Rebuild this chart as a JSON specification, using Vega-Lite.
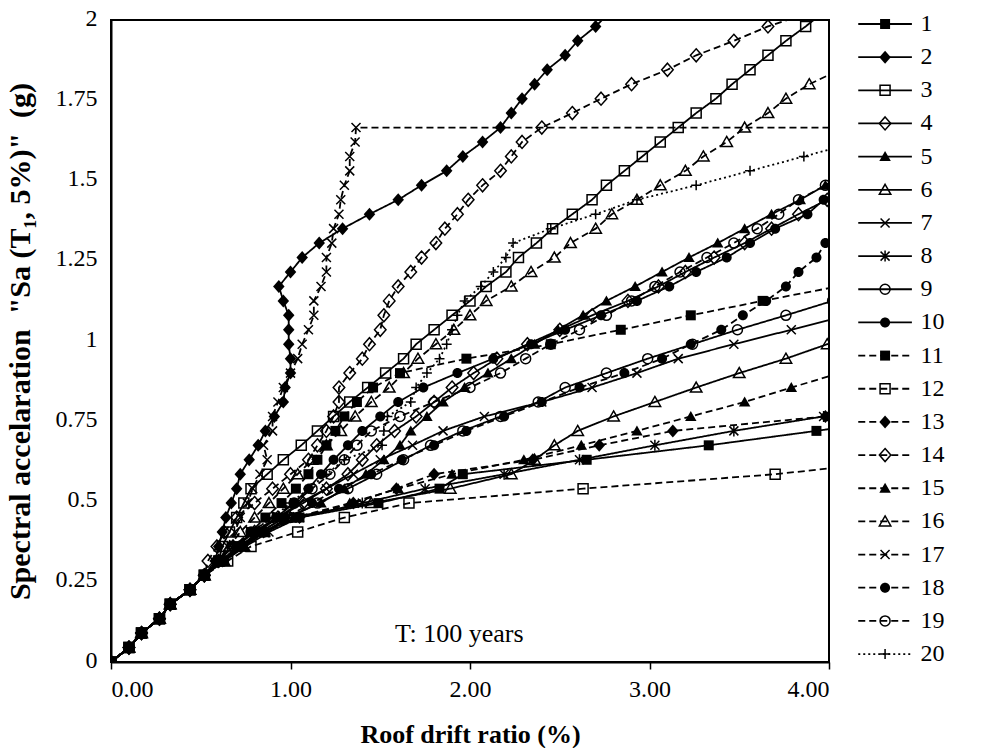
{
"$schema": "https://vega.github.io/schema/vega-lite/v6.json",
"background": "white",
"padding": {"left": 4, "top": 5, "right": 0, "bottom": 0},
"config": {
  "font": "Liberation Serif",
  "view": {"stroke": "black", "strokeWidth": 2},
  "axis": {"labelFont": "Liberation Serif", "labelFontSize": 24, "labelColor": "black", "titleFont": "Liberation Serif", "titleFontSize": 25, "titleFontWeight": "bold", "titleColor": "black", "domainColor": "black", "domainWidth": 2, "tickColor": "black", "grid": false}
},
"datasets": {
"series": [{"s":1},{"s":2},{"s":3},{"s":4},{"s":5},{"s":6},{"s":7},{"s":8},{"s":9},{"s":10},{"s":11},{"s":12},{"s":13},{"s":14},{"s":15},{"s":16},{"s":17},{"s":18},{"s":19},{"s":20}],
"curves": [
{"s":1,"x":0,"y":0},{"s":1,"x":0.1,"y":0.045},{"s":1,"x":0.17,"y":0.09},{"s":1,"x":0.27,"y":0.135},{"s":1,"x":0.33,"y":0.18},{"s":1,"x":0.44,"y":0.225},{"s":1,"x":0.52,"y":0.27},
{"s":1,"x":0.63,"y":0.315},{"s":1,"x":0.72,"y":0.36},{"s":1,"x":0.84,"y":0.405},{"s":1,"x":1.05,"y":0.45},{"s":1,"x":1.49,"y":0.495},{"s":1,"x":1.83,"y":0.54},{"s":1,"x":1.96,"y":0.585},{"s":1,"x":2.65,"y":0.63},{"s":1,"x":3.33,"y":0.675},{"s":1,"x":3.93,"y":0.72},{"s":1,"x":4.5,"y":0.765},
{"s":2,"x":0,"y":0},{"s":2,"x":0.1,"y":0.045},{"s":2,"x":0.17,"y":0.09},{"s":2,"x":0.27,"y":0.135},{"s":2,"x":0.33,"y":0.18},{"s":2,"x":0.44,"y":0.225},{"s":2,"x":0.52,"y":0.27},
{"s":2,"x":0.58,"y":0.315},{"s":2,"x":0.6,"y":0.36},{"s":2,"x":0.62,"y":0.405},{"s":2,"x":0.64,"y":0.45},{"s":2,"x":0.67,"y":0.495},{"s":2,"x":0.7,"y":0.54},{"s":2,"x":0.72,"y":0.585},{"s":2,"x":0.77,"y":0.63},{"s":2,"x":0.82,"y":0.675},{"s":2,"x":0.86,"y":0.72},{"s":2,"x":0.91,"y":0.765},{"s":2,"x":0.96,"y":0.81},{"s":2,"x":0.97,"y":0.855},{"s":2,"x":1.0,"y":0.9},{"s":2,"x":1.0,"y":0.945},{"s":2,"x":0.99,"y":0.99},{"s":2,"x":0.99,"y":1.035},{"s":2,"x":0.99,"y":1.08},{"s":2,"x":0.96,"y":1.125},{"s":2,"x":0.935,"y":1.17},{"s":2,"x":1.0,"y":1.215},{"s":2,"x":1.065,"y":1.26},{"s":2,"x":1.16,"y":1.305},{"s":2,"x":1.29,"y":1.35},{"s":2,"x":1.44,"y":1.395},{"s":2,"x":1.6,"y":1.44},{"s":2,"x":1.73,"y":1.485},{"s":2,"x":1.87,"y":1.53},{"s":2,"x":1.96,"y":1.575},{"s":2,"x":2.07,"y":1.62},{"s":2,"x":2.17,"y":1.665},{"s":2,"x":2.23,"y":1.71},{"s":2,"x":2.29,"y":1.755},{"s":2,"x":2.36,"y":1.8},{"s":2,"x":2.43,"y":1.845},{"s":2,"x":2.53,"y":1.89},{"s":2,"x":2.6,"y":1.935},{"s":2,"x":2.7,"y":1.98},{"s":2,"x":2.78,"y":2.025},
{"s":3,"x":0,"y":0},{"s":3,"x":0.1,"y":0.045},{"s":3,"x":0.17,"y":0.09},{"s":3,"x":0.27,"y":0.135},{"s":3,"x":0.33,"y":0.18},{"s":3,"x":0.44,"y":0.225},{"s":3,"x":0.52,"y":0.27},
{"s":3,"x":0.6,"y":0.315},{"s":3,"x":0.62,"y":0.36},{"s":3,"x":0.66,"y":0.405},{"s":3,"x":0.7,"y":0.45},{"s":3,"x":0.74,"y":0.495},{"s":3,"x":0.78,"y":0.54},{"s":3,"x":0.87,"y":0.585},{"s":3,"x":0.96,"y":0.63},{"s":3,"x":1.06,"y":0.675},{"s":3,"x":1.15,"y":0.72},{"s":3,"x":1.24,"y":0.765},{"s":3,"x":1.33,"y":0.81},{"s":3,"x":1.43,"y":0.855},{"s":3,"x":1.53,"y":0.9},{"s":3,"x":1.63,"y":0.945},{"s":3,"x":1.7,"y":0.99},{"s":3,"x":1.8,"y":1.035},{"s":3,"x":1.9,"y":1.08},{"s":3,"x":2.0,"y":1.125},{"s":3,"x":2.09,"y":1.17},{"s":3,"x":2.2,"y":1.215},{"s":3,"x":2.27,"y":1.26},{"s":3,"x":2.37,"y":1.305},{"s":3,"x":2.46,"y":1.35},{"s":3,"x":2.57,"y":1.395},{"s":3,"x":2.68,"y":1.44},{"s":3,"x":2.76,"y":1.485},{"s":3,"x":2.86,"y":1.53},{"s":3,"x":2.96,"y":1.575},{"s":3,"x":3.06,"y":1.62},{"s":3,"x":3.16,"y":1.665},{"s":3,"x":3.26,"y":1.71},{"s":3,"x":3.37,"y":1.755},{"s":3,"x":3.46,"y":1.8},{"s":3,"x":3.56,"y":1.845},{"s":3,"x":3.66,"y":1.89},{"s":3,"x":3.76,"y":1.935},{"s":3,"x":3.87,"y":1.98},{"s":3,"x":3.97,"y":2.025},
{"s":4,"x":0,"y":0},{"s":4,"x":0.1,"y":0.045},{"s":4,"x":0.17,"y":0.09},{"s":4,"x":0.27,"y":0.135},{"s":4,"x":0.33,"y":0.18},{"s":4,"x":0.44,"y":0.225},{"s":4,"x":0.52,"y":0.27},
{"s":4,"x":0.6,"y":0.315},{"s":4,"x":0.68,"y":0.36},{"s":4,"x":0.8,"y":0.405},{"s":4,"x":0.93,"y":0.45},{"s":4,"x":1.07,"y":0.495},{"s":4,"x":1.2,"y":0.54},{"s":4,"x":1.32,"y":0.585},{"s":4,"x":1.4,"y":0.63},{"s":4,"x":1.48,"y":0.675},{"s":4,"x":1.58,"y":0.72},{"s":4,"x":1.7,"y":0.765},{"s":4,"x":1.8,"y":0.81},{"s":4,"x":1.9,"y":0.855},{"s":4,"x":2.02,"y":0.9},{"s":4,"x":2.15,"y":0.945},{"s":4,"x":2.32,"y":0.99},{"s":4,"x":2.5,"y":1.035},{"s":4,"x":2.68,"y":1.08},{"s":4,"x":2.88,"y":1.125},{"s":4,"x":3.05,"y":1.17},{"s":4,"x":3.2,"y":1.215},{"s":4,"x":3.36,"y":1.26},{"s":4,"x":3.53,"y":1.305},{"s":4,"x":3.68,"y":1.35},{"s":4,"x":3.83,"y":1.395},{"s":4,"x":3.99,"y":1.44},{"s":4,"x":4.15,"y":1.485},
{"s":5,"x":0,"y":0},{"s":5,"x":0.1,"y":0.045},{"s":5,"x":0.17,"y":0.09},{"s":5,"x":0.27,"y":0.135},{"s":5,"x":0.33,"y":0.18},{"s":5,"x":0.44,"y":0.225},{"s":5,"x":0.52,"y":0.27},
{"s":5,"x":0.62,"y":0.315},{"s":5,"x":0.72,"y":0.36},{"s":5,"x":0.83,"y":0.405},{"s":5,"x":0.97,"y":0.45},{"s":5,"x":1.17,"y":0.495},{"s":5,"x":1.3,"y":0.54},{"s":5,"x":1.42,"y":0.585},{"s":5,"x":1.52,"y":0.63},{"s":5,"x":1.61,"y":0.675},{"s":5,"x":1.67,"y":0.72},{"s":5,"x":1.76,"y":0.765},{"s":5,"x":1.85,"y":0.81},{"s":5,"x":1.97,"y":0.855},{"s":5,"x":2.1,"y":0.9},{"s":5,"x":2.23,"y":0.945},{"s":5,"x":2.36,"y":0.99},{"s":5,"x":2.49,"y":1.035},{"s":5,"x":2.63,"y":1.08},{"s":5,"x":2.76,"y":1.125},{"s":5,"x":2.92,"y":1.17},{"s":5,"x":3.07,"y":1.215},{"s":5,"x":3.22,"y":1.26},{"s":5,"x":3.38,"y":1.305},{"s":5,"x":3.53,"y":1.35},{"s":5,"x":3.68,"y":1.395},{"s":5,"x":3.84,"y":1.44},{"s":5,"x":3.98,"y":1.485},{"s":5,"x":4.12,"y":1.53},
{"s":6,"x":0,"y":0},{"s":6,"x":0.1,"y":0.045},{"s":6,"x":0.17,"y":0.09},{"s":6,"x":0.27,"y":0.135},{"s":6,"x":0.33,"y":0.18},{"s":6,"x":0.44,"y":0.225},{"s":6,"x":0.52,"y":0.27},
{"s":6,"x":0.63,"y":0.315},{"s":6,"x":0.74,"y":0.36},{"s":6,"x":0.85,"y":0.405},{"s":6,"x":1.0,"y":0.45},{"s":6,"x":1.45,"y":0.495},{"s":6,"x":1.89,"y":0.54},{"s":6,"x":2.23,"y":0.585},{"s":6,"x":2.36,"y":0.63},{"s":6,"x":2.47,"y":0.675},{"s":6,"x":2.6,"y":0.72},{"s":6,"x":2.8,"y":0.765},{"s":6,"x":3.03,"y":0.81},{"s":6,"x":3.26,"y":0.855},{"s":6,"x":3.5,"y":0.9},{"s":6,"x":3.76,"y":0.945},{"s":6,"x":3.99,"y":0.99},{"s":6,"x":4.25,"y":1.035},
{"s":7,"x":0,"y":0},{"s":7,"x":0.1,"y":0.045},{"s":7,"x":0.17,"y":0.09},{"s":7,"x":0.27,"y":0.135},{"s":7,"x":0.33,"y":0.18},{"s":7,"x":0.44,"y":0.225},{"s":7,"x":0.52,"y":0.27},
{"s":7,"x":0.62,"y":0.315},{"s":7,"x":0.72,"y":0.36},{"s":7,"x":0.82,"y":0.405},{"s":7,"x":0.93,"y":0.45},{"s":7,"x":1.05,"y":0.495},{"s":7,"x":1.2,"y":0.54},{"s":7,"x":1.35,"y":0.585},{"s":7,"x":1.5,"y":0.63},{"s":7,"x":1.68,"y":0.675},{"s":7,"x":1.85,"y":0.72},{"s":7,"x":2.08,"y":0.765},{"s":7,"x":2.4,"y":0.81},{"s":7,"x":2.68,"y":0.855},{"s":7,"x":2.93,"y":0.9},{"s":7,"x":3.16,"y":0.945},{"s":7,"x":3.47,"y":0.99},{"s":7,"x":3.79,"y":1.035},{"s":7,"x":4.1,"y":1.08},
{"s":8,"x":0,"y":0},{"s":8,"x":0.1,"y":0.045},{"s":8,"x":0.17,"y":0.09},{"s":8,"x":0.27,"y":0.135},{"s":8,"x":0.33,"y":0.18},{"s":8,"x":0.44,"y":0.225},{"s":8,"x":0.52,"y":0.27},
{"s":8,"x":0.63,"y":0.315},{"s":8,"x":0.75,"y":0.36},{"s":8,"x":0.88,"y":0.405},{"s":8,"x":1.05,"y":0.45},{"s":8,"x":1.4,"y":0.495},{"s":8,"x":1.75,"y":0.54},{"s":8,"x":2.19,"y":0.585},{"s":8,"x":2.61,"y":0.63},{"s":8,"x":3.03,"y":0.675},{"s":8,"x":3.47,"y":0.72},{"s":8,"x":3.97,"y":0.765},{"s":8,"x":4.5,"y":0.81},
{"s":9,"x":0,"y":0},{"s":9,"x":0.1,"y":0.045},{"s":9,"x":0.17,"y":0.09},{"s":9,"x":0.27,"y":0.135},{"s":9,"x":0.33,"y":0.18},{"s":9,"x":0.44,"y":0.225},{"s":9,"x":0.52,"y":0.27},
{"s":9,"x":0.62,"y":0.315},{"s":9,"x":0.72,"y":0.36},{"s":9,"x":0.85,"y":0.405},{"s":9,"x":1.0,"y":0.45},{"s":9,"x":1.15,"y":0.495},{"s":9,"x":1.32,"y":0.54},{"s":9,"x":1.48,"y":0.585},{"s":9,"x":1.63,"y":0.63},{"s":9,"x":1.78,"y":0.675},{"s":9,"x":1.96,"y":0.72},{"s":9,"x":2.17,"y":0.765},{"s":9,"x":2.38,"y":0.81},{"s":9,"x":2.53,"y":0.855},{"s":9,"x":2.76,"y":0.9},{"s":9,"x":2.99,"y":0.945},{"s":9,"x":3.24,"y":0.99},{"s":9,"x":3.49,"y":1.035},{"s":9,"x":3.76,"y":1.08},{"s":9,"x":4.02,"y":1.125},
{"s":10,"x":0,"y":0},{"s":10,"x":0.1,"y":0.045},{"s":10,"x":0.17,"y":0.09},{"s":10,"x":0.27,"y":0.135},{"s":10,"x":0.33,"y":0.18},{"s":10,"x":0.44,"y":0.225},{"s":10,"x":0.52,"y":0.27},
{"s":10,"x":0.62,"y":0.315},{"s":10,"x":0.7,"y":0.36},{"s":10,"x":0.8,"y":0.405},{"s":10,"x":0.92,"y":0.45},{"s":10,"x":1.02,"y":0.495},{"s":10,"x":1.1,"y":0.54},{"s":10,"x":1.17,"y":0.585},{"s":10,"x":1.24,"y":0.63},{"s":10,"x":1.32,"y":0.675},{"s":10,"x":1.4,"y":0.72},{"s":10,"x":1.5,"y":0.765},{"s":10,"x":1.6,"y":0.81},{"s":10,"x":1.74,"y":0.855},{"s":10,"x":1.93,"y":0.9},{"s":10,"x":2.13,"y":0.945},{"s":10,"x":2.34,"y":0.99},{"s":10,"x":2.53,"y":1.035},{"s":10,"x":2.73,"y":1.08},{"s":10,"x":2.93,"y":1.125},{"s":10,"x":3.11,"y":1.17},{"s":10,"x":3.26,"y":1.215},{"s":10,"x":3.43,"y":1.26},{"s":10,"x":3.56,"y":1.305},{"s":10,"x":3.7,"y":1.35},{"s":10,"x":3.88,"y":1.395},{"s":10,"x":3.97,"y":1.44},{"s":10,"x":4.1,"y":1.485},
{"s":11,"x":0,"y":0},{"s":11,"x":0.1,"y":0.045},{"s":11,"x":0.17,"y":0.09},{"s":11,"x":0.27,"y":0.135},{"s":11,"x":0.33,"y":0.18},{"s":11,"x":0.44,"y":0.225},{"s":11,"x":0.52,"y":0.27},
{"s":11,"x":0.62,"y":0.315},{"s":11,"x":0.7,"y":0.36},{"s":11,"x":0.78,"y":0.405},{"s":11,"x":0.86,"y":0.45},{"s":11,"x":0.95,"y":0.495},{"s":11,"x":1.03,"y":0.54},{"s":11,"x":1.1,"y":0.585},{"s":11,"x":1.15,"y":0.63},{"s":11,"x":1.2,"y":0.675},{"s":11,"x":1.25,"y":0.72},{"s":11,"x":1.3,"y":0.765},{"s":11,"x":1.37,"y":0.81},{"s":11,"x":1.46,"y":0.855},{"s":11,"x":1.61,"y":0.9},{"s":11,"x":1.98,"y":0.945},{"s":11,"x":2.45,"y":0.99},{"s":11,"x":2.84,"y":1.035},{"s":11,"x":3.23,"y":1.08},{"s":11,"x":3.63,"y":1.125},{"s":11,"x":4.05,"y":1.17},
{"s":12,"x":0,"y":0},{"s":12,"x":0.1,"y":0.045},{"s":12,"x":0.17,"y":0.09},{"s":12,"x":0.27,"y":0.135},{"s":12,"x":0.33,"y":0.18},{"s":12,"x":0.44,"y":0.225},{"s":12,"x":0.52,"y":0.27},
{"s":12,"x":0.65,"y":0.315},{"s":12,"x":0.78,"y":0.36},{"s":12,"x":1.04,"y":0.405},{"s":12,"x":1.3,"y":0.45},{"s":12,"x":1.66,"y":0.495},{"s":12,"x":2.63,"y":0.54},{"s":12,"x":3.7,"y":0.585},{"s":12,"x":4.45,"y":0.63},
{"s":13,"x":0,"y":0},{"s":13,"x":0.1,"y":0.045},{"s":13,"x":0.17,"y":0.09},{"s":13,"x":0.27,"y":0.135},{"s":13,"x":0.33,"y":0.18},{"s":13,"x":0.44,"y":0.225},{"s":13,"x":0.52,"y":0.27},
{"s":13,"x":0.62,"y":0.315},{"s":13,"x":0.73,"y":0.36},{"s":13,"x":0.85,"y":0.405},{"s":13,"x":1.05,"y":0.45},{"s":13,"x":1.35,"y":0.495},{"s":13,"x":1.59,"y":0.54},{"s":13,"x":1.8,"y":0.585},{"s":13,"x":2.35,"y":0.63},{"s":13,"x":2.72,"y":0.675},{"s":13,"x":3.13,"y":0.72},{"s":13,"x":3.98,"y":0.765},{"s":13,"x":4.6,"y":0.81},
{"s":14,"x":0,"y":0},{"s":14,"x":0.1,"y":0.045},{"s":14,"x":0.17,"y":0.09},{"s":14,"x":0.27,"y":0.135},{"s":14,"x":0.33,"y":0.18},{"s":14,"x":0.44,"y":0.225},{"s":14,"x":0.52,"y":0.27},
{"s":14,"x":0.54,"y":0.315},{"s":14,"x":0.59,"y":0.36},{"s":14,"x":0.63,"y":0.405},{"s":14,"x":0.7,"y":0.45},{"s":14,"x":0.8,"y":0.495},{"s":14,"x":0.9,"y":0.54},{"s":14,"x":1.0,"y":0.585},{"s":14,"x":1.1,"y":0.63},{"s":14,"x":1.15,"y":0.675},{"s":14,"x":1.2,"y":0.72},{"s":14,"x":1.24,"y":0.765},{"s":14,"x":1.27,"y":0.81},{"s":14,"x":1.27,"y":0.855},{"s":14,"x":1.33,"y":0.9},{"s":14,"x":1.4,"y":0.945},{"s":14,"x":1.44,"y":0.99},{"s":14,"x":1.5,"y":1.035},{"s":14,"x":1.52,"y":1.08},{"s":14,"x":1.55,"y":1.125},{"s":14,"x":1.6,"y":1.17},{"s":14,"x":1.67,"y":1.215},{"s":14,"x":1.73,"y":1.26},{"s":14,"x":1.81,"y":1.305},{"s":14,"x":1.86,"y":1.35},{"s":14,"x":1.93,"y":1.395},{"s":14,"x":1.99,"y":1.44},{"s":14,"x":2.07,"y":1.485},{"s":14,"x":2.17,"y":1.53},{"s":14,"x":2.23,"y":1.575},{"s":14,"x":2.29,"y":1.62},{"s":14,"x":2.4,"y":1.665},{"s":14,"x":2.57,"y":1.71},{"s":14,"x":2.73,"y":1.755},{"s":14,"x":2.9,"y":1.8},{"s":14,"x":3.1,"y":1.845},{"s":14,"x":3.26,"y":1.89},{"s":14,"x":3.47,"y":1.935},{"s":14,"x":3.66,"y":1.98},{"s":14,"x":3.9,"y":2.025},
{"s":15,"x":0,"y":0},{"s":15,"x":0.1,"y":0.045},{"s":15,"x":0.17,"y":0.09},{"s":15,"x":0.27,"y":0.135},{"s":15,"x":0.33,"y":0.18},{"s":15,"x":0.44,"y":0.225},{"s":15,"x":0.52,"y":0.27},
{"s":15,"x":0.63,"y":0.315},{"s":15,"x":0.74,"y":0.36},{"s":15,"x":0.86,"y":0.405},{"s":15,"x":1.02,"y":0.45},{"s":15,"x":1.33,"y":0.495},{"s":15,"x":1.6,"y":0.54},{"s":15,"x":1.9,"y":0.585},{"s":15,"x":2.3,"y":0.63},{"s":15,"x":2.62,"y":0.675},{"s":15,"x":2.93,"y":0.72},{"s":15,"x":3.23,"y":0.765},{"s":15,"x":3.53,"y":0.81},{"s":15,"x":3.79,"y":0.855},{"s":15,"x":4.06,"y":0.9},
{"s":16,"x":0,"y":0},{"s":16,"x":0.1,"y":0.045},{"s":16,"x":0.17,"y":0.09},{"s":16,"x":0.27,"y":0.135},{"s":16,"x":0.33,"y":0.18},{"s":16,"x":0.44,"y":0.225},{"s":16,"x":0.52,"y":0.27},
{"s":16,"x":0.6,"y":0.315},{"s":16,"x":0.66,"y":0.36},{"s":16,"x":0.72,"y":0.405},{"s":16,"x":0.8,"y":0.45},{"s":16,"x":0.88,"y":0.495},{"s":16,"x":0.96,"y":0.54},{"s":16,"x":1.04,"y":0.585},{"s":16,"x":1.12,"y":0.63},{"s":16,"x":1.2,"y":0.675},{"s":16,"x":1.28,"y":0.72},{"s":16,"x":1.36,"y":0.765},{"s":16,"x":1.45,"y":0.81},{"s":16,"x":1.55,"y":0.855},{"s":16,"x":1.63,"y":0.9},{"s":16,"x":1.71,"y":0.945},{"s":16,"x":1.81,"y":0.99},{"s":16,"x":1.91,"y":1.035},{"s":16,"x":2.0,"y":1.08},{"s":16,"x":2.09,"y":1.125},{"s":16,"x":2.23,"y":1.17},{"s":16,"x":2.34,"y":1.215},{"s":16,"x":2.47,"y":1.26},{"s":16,"x":2.56,"y":1.305},{"s":16,"x":2.7,"y":1.35},{"s":16,"x":2.79,"y":1.395},{"s":16,"x":2.93,"y":1.44},{"s":16,"x":3.06,"y":1.485},{"s":16,"x":3.2,"y":1.53},{"s":16,"x":3.3,"y":1.575},{"s":16,"x":3.43,"y":1.62},{"s":16,"x":3.53,"y":1.665},{"s":16,"x":3.66,"y":1.71},{"s":16,"x":3.76,"y":1.755},{"s":16,"x":3.89,"y":1.8},{"s":16,"x":4.06,"y":1.845},
{"s":17,"x":0,"y":0},{"s":17,"x":0.1,"y":0.045},{"s":17,"x":0.17,"y":0.09},{"s":17,"x":0.27,"y":0.135},{"s":17,"x":0.33,"y":0.18},{"s":17,"x":0.44,"y":0.225},{"s":17,"x":0.52,"y":0.27},
{"s":17,"x":0.6,"y":0.315},{"s":17,"x":0.65,"y":0.36},{"s":17,"x":0.69,"y":0.405},{"s":17,"x":0.72,"y":0.45},{"s":17,"x":0.76,"y":0.495},{"s":17,"x":0.79,"y":0.54},{"s":17,"x":0.83,"y":0.585},{"s":17,"x":0.87,"y":0.63},{"s":17,"x":0.85,"y":0.675},{"s":17,"x":0.9,"y":0.72},{"s":17,"x":0.9,"y":0.765},{"s":17,"x":0.93,"y":0.81},{"s":17,"x":0.96,"y":0.855},{"s":17,"x":1.0,"y":0.9},{"s":17,"x":1.04,"y":0.945},{"s":17,"x":1.065,"y":0.99},{"s":17,"x":1.1,"y":1.035},{"s":17,"x":1.13,"y":1.08},{"s":17,"x":1.13,"y":1.125},{"s":17,"x":1.17,"y":1.17},{"s":17,"x":1.2,"y":1.215},{"s":17,"x":1.2,"y":1.26},{"s":17,"x":1.23,"y":1.305},{"s":17,"x":1.24,"y":1.35},{"s":17,"x":1.27,"y":1.395},{"s":17,"x":1.28,"y":1.44},{"s":17,"x":1.3,"y":1.485},{"s":17,"x":1.33,"y":1.53},{"s":17,"x":1.33,"y":1.575},{"s":17,"x":1.36,"y":1.62},{"s":17,"x":1.365,"y":1.665},{"s":17,"x":10,"y":1.665},
{"s":18,"x":0,"y":0},{"s":18,"x":0.1,"y":0.045},{"s":18,"x":0.17,"y":0.09},{"s":18,"x":0.27,"y":0.135},{"s":18,"x":0.33,"y":0.18},{"s":18,"x":0.44,"y":0.225},{"s":18,"x":0.52,"y":0.27},
{"s":18,"x":0.62,"y":0.315},{"s":18,"x":0.72,"y":0.36},{"s":18,"x":0.83,"y":0.405},{"s":18,"x":0.97,"y":0.45},{"s":18,"x":1.12,"y":0.495},{"s":18,"x":1.27,"y":0.54},{"s":18,"x":1.45,"y":0.585},{"s":18,"x":1.62,"y":0.63},{"s":18,"x":1.8,"y":0.675},{"s":18,"x":1.98,"y":0.72},{"s":18,"x":2.19,"y":0.765},{"s":18,"x":2.4,"y":0.81},{"s":18,"x":2.61,"y":0.855},{"s":18,"x":2.86,"y":0.9},{"s":18,"x":3.07,"y":0.945},{"s":18,"x":3.23,"y":0.99},{"s":18,"x":3.4,"y":1.035},{"s":18,"x":3.52,"y":1.08},{"s":18,"x":3.65,"y":1.125},{"s":18,"x":3.76,"y":1.17},{"s":18,"x":3.83,"y":1.215},{"s":18,"x":3.93,"y":1.26},{"s":18,"x":3.98,"y":1.305},{"s":18,"x":4.05,"y":1.35},
{"s":19,"x":0,"y":0},{"s":19,"x":0.1,"y":0.045},{"s":19,"x":0.17,"y":0.09},{"s":19,"x":0.27,"y":0.135},{"s":19,"x":0.33,"y":0.18},{"s":19,"x":0.44,"y":0.225},{"s":19,"x":0.52,"y":0.27},
{"s":19,"x":0.6,"y":0.315},{"s":19,"x":0.68,"y":0.36},{"s":19,"x":0.78,"y":0.405},{"s":19,"x":0.9,"y":0.45},{"s":19,"x":1.02,"y":0.495},{"s":19,"x":1.12,"y":0.54},{"s":19,"x":1.22,"y":0.585},{"s":19,"x":1.3,"y":0.63},{"s":19,"x":1.37,"y":0.675},{"s":19,"x":1.45,"y":0.72},{"s":19,"x":1.61,"y":0.765},{"s":19,"x":1.8,"y":0.81},{"s":19,"x":2.0,"y":0.855},{"s":19,"x":2.17,"y":0.9},{"s":19,"x":2.31,"y":0.945},{"s":19,"x":2.45,"y":0.99},{"s":19,"x":2.61,"y":1.035},{"s":19,"x":2.76,"y":1.08},{"s":19,"x":2.9,"y":1.125},{"s":19,"x":3.03,"y":1.17},{"s":19,"x":3.17,"y":1.215},{"s":19,"x":3.32,"y":1.26},{"s":19,"x":3.47,"y":1.305},{"s":19,"x":3.6,"y":1.35},{"s":19,"x":3.72,"y":1.395},{"s":19,"x":3.83,"y":1.44},{"s":19,"x":3.98,"y":1.485},{"s":19,"x":4.1,"y":1.53},
{"s":20,"x":0,"y":0},{"s":20,"x":0.1,"y":0.045},{"s":20,"x":0.17,"y":0.09},{"s":20,"x":0.27,"y":0.135},{"s":20,"x":0.33,"y":0.18},{"s":20,"x":0.44,"y":0.225},{"s":20,"x":0.52,"y":0.27},
{"s":20,"x":0.6,"y":0.315},{"s":20,"x":0.68,"y":0.36},{"s":20,"x":0.78,"y":0.405},{"s":20,"x":0.9,"y":0.45},{"s":20,"x":1.0,"y":0.495},{"s":20,"x":1.1,"y":0.54},{"s":20,"x":1.2,"y":0.585},{"s":20,"x":1.3,"y":0.63},{"s":20,"x":1.51,"y":0.675},{"s":20,"x":1.52,"y":0.72},{"s":20,"x":1.54,"y":0.765},{"s":20,"x":1.67,"y":0.81},{"s":20,"x":1.7,"y":0.855},{"s":20,"x":1.76,"y":0.9},{"s":20,"x":1.83,"y":0.945},{"s":20,"x":1.87,"y":0.99},{"s":20,"x":1.9,"y":1.035},{"s":20,"x":1.93,"y":1.08},{"s":20,"x":1.97,"y":1.125},{"s":20,"x":2.06,"y":1.17},{"s":20,"x":2.13,"y":1.215},{"s":20,"x":2.2,"y":1.26},{"s":20,"x":2.24,"y":1.305},{"s":20,"x":2.45,"y":1.35},{"s":20,"x":2.7,"y":1.395},{"s":20,"x":2.93,"y":1.44},{"s":20,"x":3.26,"y":1.485},{"s":20,"x":3.56,"y":1.53},{"s":20,"x":3.86,"y":1.575},{"s":20,"x":4.16,"y":1.62}
]
},
"spacing": 20,
"resolve": {"scale": {"x": "independent", "y": "independent"}},
"hconcat": [
{
  "width": 718,
  "height": 642,
  "layer": [
    {
      "data": {"name": "curves"},
      "mark": {"type": "line", "clip": true, "color": "black", "strokeWidth": 1.8},
      "encoding": {
        "x": {"field": "x", "type": "quantitative", "scale": {"domain": [0, 4], "nice": false},
              "axis": {"values": [0, 1, 2, 3, 4], "format": ".2f", "title": "Roof drift ratio (%)", "titleFontSize": 26, "tickSize": 7, "tickWidth": 1.5, "labelPadding": 8, "titlePadding": 20}},
        "y": {"field": "y", "type": "quantitative", "scale": {"domain": [0, 2], "nice": false},
              "axis": {"values": [0, 0.25, 0.5, 0.75, 1, 1.25, 1.5, 1.75, 2], "labelExpr": "'' + datum.value", "ticks": false, "labelPadding": 14, "labelOffset": -2, "titlePadding": 20, "titleFontSize": 30,
                       "title": "Spectral accelaration\u00a0\u00a0\"Sa (T\u2081, 5%)\"\u00a0\u00a0(g)"}},
        "detail": {"field": "s", "type": "nominal"},
        "order": {"field": "y", "type": "quantitative"},
        "strokeDash": {"field": "s", "type": "nominal", "legend": null,
          "scale": {"domain": [1,2,3,4,5,6,7,8,9,10,11,12,13,14,15,16,17,18,19,20],
                    "range": [[1,0],[1,0],[1,0],[1,0],[1,0],[1,0],[1,0],[1,0],[1,0],[1,0],[7,4],[7,4],[7,4],[7,4],[7,4],[7,4],[7,4],[7,4],[7,4],[2,3]]}}
      }
    },
    {
      "data": {"name": "curves"},
      "transform": [{"filter": {"field": "s", "oneOf": [1,2,5,10,11,13,15,18]}}],
      "mark": {"type": "point", "filled": true, "clip": true, "color": "black", "opacity": 1, "size": 100},
      "encoding": {
        "x": {"field": "x", "type": "quantitative"},
        "y": {"field": "y", "type": "quantitative"},
        "shape": {"field": "s", "type": "nominal", "legend": null,
          "scale": {"domain": [1,2,3,4,5,6,7,8,9,10,11,12,13,14,15,16,17,18,19,20],
            "range": ["M-1,-1H1V1H-1Z","M0,-1.3L1.15,0L0,1.3L-1.15,0Z","M-1,-1H1V1H-1Z","M0,-1.3L1.15,0L0,1.3L-1.15,0Z","M0,-1.1L1.15,0.9H-1.15Z","M0,-1.1L1.15,0.9H-1.15Z","M-0.9,-0.9L0.9,0.9M-0.9,0.9L0.9,-0.9","M-0.9,-0.9L0.9,0.9M-0.9,0.9L0.9,-0.9M0,-1.1L0,1.1","M1,0A1,1,0,1,1,-1,0A1,1,0,1,1,1,0Z","M1,0A1,1,0,1,1,-1,0A1,1,0,1,1,1,0Z","M-1,-1H1V1H-1Z","M-1,-1H1V1H-1Z","M0,-1.3L1.15,0L0,1.3L-1.15,0Z","M0,-1.3L1.15,0L0,1.3L-1.15,0Z","M0,-1.1L1.15,0.9H-1.15Z","M0,-1.1L1.15,0.9H-1.15Z","M-0.9,-0.9L0.9,0.9M-0.9,0.9L0.9,-0.9","M1,0A1,1,0,1,1,-1,0A1,1,0,1,1,1,0Z","M1,0A1,1,0,1,1,-1,0A1,1,0,1,1,1,0Z","M-1,0H1M0,-1V1"]}}
      }
    },
    {
      "data": {"name": "curves"},
      "transform": [{"filter": {"field": "s", "oneOf": [3,4,6,7,8,9,12,14,16,17,19,20]}}],
      "mark": {"type": "point", "filled": false, "clip": true, "color": "black", "opacity": 1, "strokeWidth": 1.5, "size": 100},
      "encoding": {
        "x": {"field": "x", "type": "quantitative"},
        "y": {"field": "y", "type": "quantitative"},
        "shape": {"field": "s", "type": "nominal", "legend": null}
      }
    },
    {
      "data": {"values": [{"label": "T: 100 years"}]},
      "mark": {"type": "text", "font": "Liberation Serif", "fontSize": 26, "align": "center", "baseline": "alphabetic", "color": "black"},
      "encoding": {
        "x": {"datum": 1.94, "type": "quantitative"},
        "y": {"datum": 0.063, "type": "quantitative"},
        "text": {"field": "label"}
      }
    }
  ]
},
{
  "width": 145,
  "height": 642,
  "view": {"stroke": null},
  "data": {"name": "series"},
  "layer": [
    {
      "mark": {"type": "rule", "color": "black", "strokeWidth": 1.8},
      "encoding": {
        "x": {"datum": 0.5, "type": "quantitative", "scale": {"domain": [0, 10], "nice": false}, "axis": null},
        "x2": {"datum": 4.2},
        "y": {"field": "s", "type": "quantitative", "scale": {"domain": [0.88, 20.24], "reverse": true, "nice": false, "zero": false}, "axis": null},
        "strokeDash": {"field": "s", "type": "nominal", "legend": null,
          "scale": {"domain": [1,2,3,4,5,6,7,8,9,10,11,12,13,14,15,16,17,18,19,20],
                    "range": [[1,0],[1,0],[1,0],[1,0],[1,0],[1,0],[1,0],[1,0],[1,0],[1,0],[7,4],[7,4],[7,4],[7,4],[7,4],[7,4],[7,4],[7,4],[7,4],[2,3]]}}
      }
    },
    {
      "transform": [{"filter": {"field": "s", "oneOf": [1,2,5,10,11,13,15,18]}}],
      "mark": {"type": "point", "filled": true, "color": "black", "opacity": 1, "size": 100},
      "encoding": {
        "x": {"datum": 2.35, "type": "quantitative"},
        "y": {"field": "s", "type": "quantitative"},
        "shape": {"field": "s", "type": "nominal", "legend": null,
          "scale": {"domain": [1,2,3,4,5,6,7,8,9,10,11,12,13,14,15,16,17,18,19,20],
            "range": ["M-1,-1H1V1H-1Z","M0,-1.3L1.15,0L0,1.3L-1.15,0Z","M-1,-1H1V1H-1Z","M0,-1.3L1.15,0L0,1.3L-1.15,0Z","M0,-1.1L1.15,0.9H-1.15Z","M0,-1.1L1.15,0.9H-1.15Z","M-0.9,-0.9L0.9,0.9M-0.9,0.9L0.9,-0.9","M-0.9,-0.9L0.9,0.9M-0.9,0.9L0.9,-0.9M0,-1.1L0,1.1","M1,0A1,1,0,1,1,-1,0A1,1,0,1,1,1,0Z","M1,0A1,1,0,1,1,-1,0A1,1,0,1,1,1,0Z","M-1,-1H1V1H-1Z","M-1,-1H1V1H-1Z","M0,-1.3L1.15,0L0,1.3L-1.15,0Z","M0,-1.3L1.15,0L0,1.3L-1.15,0Z","M0,-1.1L1.15,0.9H-1.15Z","M0,-1.1L1.15,0.9H-1.15Z","M-0.9,-0.9L0.9,0.9M-0.9,0.9L0.9,-0.9","M1,0A1,1,0,1,1,-1,0A1,1,0,1,1,1,0Z","M1,0A1,1,0,1,1,-1,0A1,1,0,1,1,1,0Z","M-1,0H1M0,-1V1"]}}
      }
    },
    {
      "transform": [{"filter": {"field": "s", "oneOf": [3,4,6,7,8,9,12,14,16,17,19,20]}}],
      "mark": {"type": "point", "filled": false, "color": "black", "opacity": 1, "strokeWidth": 1.5, "size": 100},
      "encoding": {
        "x": {"datum": 2.35, "type": "quantitative"},
        "y": {"field": "s", "type": "quantitative"},
        "shape": {"field": "s", "type": "nominal", "legend": null}
      }
    },
    {
      "mark": {"type": "text", "align": "left", "baseline": "middle", "font": "Liberation Serif", "fontSize": 24, "color": "black"},
      "encoding": {
        "x": {"datum": 4.8, "type": "quantitative"},
        "y": {"field": "s", "type": "quantitative"},
        "text": {"field": "s", "type": "nominal"}
      }
    }
  ]
}
]
}
